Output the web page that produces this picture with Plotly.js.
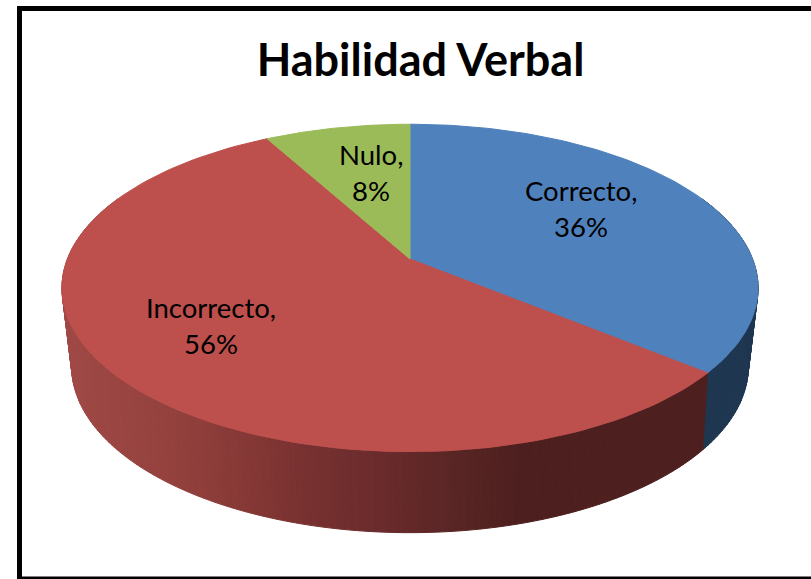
<!DOCTYPE html>
<html><head><meta charset="utf-8">
<script src="https://cdn.plot.ly/plotly-3.0.1.min.js"></script>
<style>html,body{margin:0;padding:0;background:#fff}#c{width:811px;height:579px}</style>
</head><body><div id="c"></div>
<script>
// Data
var categories = ["Correcto", "Incorrecto", "Nulo"];
var shares = [36, 56, 8];
var titleText = "Habilidad Verbal";

// Style
var topColors = ["#4F81BD", "#BD4F4C", "#9BBB59"];
var labelAt = [[581, 190.5, 226.5], [211, 307.5, 343.5], [371, 154.5, 190.5]];
var wallBlue = "#1E3650";
var redX = [60, 180, 250, 320, 385, 450, 520, 710];
var redR = [160, 147, 132, 117, 106, 90, 77, 77];
var redG = [73, 64, 56, 47, 43, 38, 31, 31];
var redB = [70, 60, 53, 47, 44, 37, 30, 30];

// Projection of the tilted disc (perspective) into the plot's coordinates
var top_ = {cx: 410, b: 259, a: 158.6, c: 342.6, k: 0.1768};
var low_ = {cx: 410, b: 333.3, a: 159.5, c: 331.5, k: 0.2};
function proj(p, deg) {
  var t = deg * Math.PI / 180, u = Math.sin(t), v = -Math.cos(t), w = 1 - p.k * v;
  return [p.cx + p.c * u / w, p.b + p.a * v / w];
}
function lerp(xs, ys, x) {
  for (var i = 1; i < xs.length; i++) if (x <= xs[i]) {
    return ys[i-1] + (ys[i]-ys[i-1]) * (x-xs[i-1]) / (xs[i]-xs[i-1]);
  }
  return ys[ys.length-1];
}
function redAt(x) {
  return "rgb(" + Math.round(lerp(redX, redR, x)) + "," + Math.round(lerp(redX, redG, x)) + "," + Math.round(lerp(redX, redB, x)) + ")";
}
function poly(xs, ys, color, name) {
  return {type: "scatter", mode: "lines", x: xs, y: ys, fill: "toself", fillcolor: color,
          line: {color: color, width: 1}, hoverinfo: "skip", showlegend: false, name: name};
}

var traces = [];
var total = shares.reduce(function (a, b) { return a + b; }, 0);
var bounds = [0];
shares.forEach(function (s) { bounds.push(bounds[bounds.length-1] + 360 * s / total); });

// Side wall strips: from the back corners forward, the first boundary last
var STEP = 1, A0 = 66, A1 = 294, strips = [];
for (var d = A0; d < bounds[1]; d += STEP) strips.push([d, Math.min(d + STEP, bounds[1]), 0]);
for (var g = A1; g > bounds[1]; g -= STEP) strips.push([Math.max(g - STEP, bounds[1]), g, 1]);
strips.forEach(function (s) {
  var a = proj(top_, s[0]), b = proj(top_, s[1]), c = proj(low_, s[1]), f = proj(low_, s[0]);
  var color = s[2] === 0 ? wallBlue : redAt((a[0] + b[0]) / 2);
  traces.push(poly([a[0], b[0], c[0], f[0], a[0]], [a[1], b[1], c[1], f[1], a[1]], color, categories[s[2]] + " side"));
});

// Top faces
categories.forEach(function (name, i) {
  var xs = [top_.cx], ys = [top_.b];
  for (var n = 0; n <= 120; n++) {
    var p = proj(top_, bounds[i] + (bounds[i+1] - bounds[i]) * n / 120);
    xs.push(p[0]); ys.push(p[1]);
  }
  xs.push(top_.cx); ys.push(top_.b);
  traces.push(poly(xs, ys, topColors[i], name));
});

// Labels
var annotations = [];
categories.forEach(function (name, i) {
  var f = {family: "Lato, sans-serif", size: 27.5, color: "#000"};
  annotations.push({x: labelAt[i][0], y: labelAt[i][1], xref: "x", yref: "y", text: name + ",", showarrow: false, font: f, xanchor: "center", yanchor: "middle"});
  annotations.push({x: labelAt[i][0], y: labelAt[i][2], xref: "x", yref: "y", text: shares[i] + "%", showarrow: false, font: f, xanchor: "center", yanchor: "middle"});
});

function frameLine(x0, y0, x1, y1, w) {
  return {type: "line", xref: "x", yref: "y", x0: x0, y0: y0, x1: x1, y1: y1, line: {color: "#000", width: w}, layer: "above"};
}

var layout = {
  width: 811, height: 579, margin: {l: 0, r: 0, t: 0, b: 0},
  paper_bgcolor: "#fff", plot_bgcolor: "#fff", showlegend: false,
  title: {text: "<b>" + titleText + "</b>", x: 420.5 / 811, xref: "paper", xanchor: "center",
          y: 1 - 60 / 579, yref: "paper", yanchor: "middle",
          font: {family: "Lato, sans-serif", size: 45, color: "#000"}},
  xaxis: {range: [0, 811], visible: false, fixedrange: true},
  yaxis: {range: [579, 0], visible: false, fixedrange: true},
  annotations: annotations,
  shapes: [frameLine(19.5, 6, 19.5, 579, 5), frameLine(17, 8.5, 811, 8.5, 5), frameLine(17, 578, 811, 578, 3)]
};
Plotly.newPlot("c", traces, layout, {staticPlot: true, displayModeBar: false});
</script></body></html>
